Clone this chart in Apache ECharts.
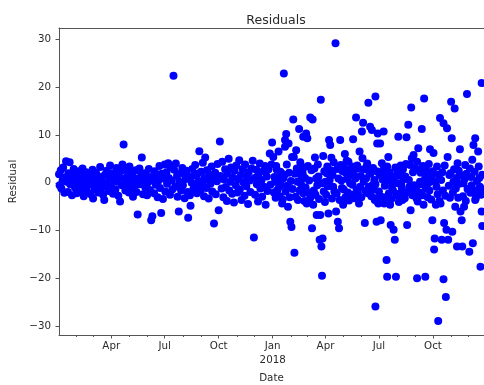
<!DOCTYPE html>
<html><head><meta charset="utf-8">
<script src="https://cdn.jsdelivr.net/npm/echarts@6/dist/echarts.min.js"></script>
<style>html,body{margin:0;padding:0;background:#fff}#c{width:484px;height:385px}</style>
</head><body><div id="c"></div>
<script>
const chartTitle = 'Residuals';
const xName = 'Date';
const yName = 'Residual';
const majorTickDates = ['2017-04-01','2017-07-01','2017-10-01','2018-01-01','2018-04-01','2018-07-01','2018-10-01'];
const majorTickLabels = ['Apr','Jul','Oct','Jan\n2018','Apr','Jul','Oct'];
const minorTickDates = ['2017-02-01','2017-03-01','2017-05-01','2017-06-01','2017-08-01','2017-09-01','2017-11-01','2017-12-01',
  '2018-02-01','2018-03-01','2018-05-01','2018-06-01','2018-08-01','2018-09-01','2018-11-01','2018-12-01'];
const yTicks = [-30,-20,-10,0,10,20,30];

// 2017 residuals (MM-DD, value)
const dates2017 = [
 '01-02','01-03','01-05','01-06','01-08','01-09','01-11','01-12','01-14','01-15','01-17','01-18','01-20','01-21','01-23','01-24','01-26','01-27','01-29','01-30',
 '02-01','02-02','02-04','02-05','02-07','02-08','02-10','02-11','02-13','02-14','02-16','02-17','02-19','02-20','02-22','02-23','02-25','02-26','02-28',
 '03-01','03-03','03-04','03-06','03-07','03-09','03-10','03-12','03-13','03-15','03-16','03-18','03-20','03-21','03-23','03-24','03-26','03-27','03-29','03-30',
 '04-01','04-02','04-04','04-05','04-07','04-08','04-10','04-11','04-13','04-14','04-16','04-17','04-19','04-20','04-22','04-23','04-25','04-26','04-28','04-29',
 '05-01','05-02','05-04','05-05','05-07','05-08','05-10','05-11','05-13','05-14','05-16','05-17','05-19','05-20','05-22','05-23','05-25','05-26','05-28','05-29','05-31',
 '06-01','06-03','06-04','06-06','06-07','06-08','06-10','06-11','06-13','06-14','06-16','06-17','06-19','06-20','06-22','06-23','06-25','06-26','06-28','06-29',
 '07-01','07-02','07-04','07-05','07-07','07-08','07-10','07-11','07-13','07-14','07-16','07-17','07-19','07-20','07-22','07-23','07-25','07-26','07-28','07-29','07-31',
 '08-01','08-03','08-04','08-06','08-07','08-09','08-10','08-12','08-13','08-14','08-16','08-17','08-19','08-20','08-22','08-23','08-25','08-26','08-28','08-29','08-31',
 '09-01','09-03','09-04','09-06','09-07','09-08','09-10','09-11','09-13','09-14','09-16','09-17','09-19','09-20','09-22','09-23','09-25','09-26','09-28','09-29',
 '10-01','10-03','10-04','10-06','10-07','10-09','10-10','10-12','10-13','10-15','10-16','10-18','10-19','10-21','10-22','10-24','10-25','10-27','10-28','10-30','10-31',
 '11-02','11-03','11-05','11-06','11-08','11-09','11-11','11-12','11-14','11-15','11-17','11-18','11-20','11-21','11-23','11-24','11-26','11-28','11-30',
 '12-01','12-02','12-04','12-05','12-07','12-08','12-10','12-11','12-13','12-14','12-16','12-17','12-19','12-20','12-22','12-23','12-25','12-27','12-28','12-30','12-31'
];
const resid2017 = [
 1.8,-0.5,2.6,-1.2,0.4,3.2,-2.1,1.1,4.5,0.2,-1.9,2.0,4.3,-0.3,1.5,-2.6,0.8,2.9,-1.0,0.5,
 -2.2,1.7,-0.6,2.4,0.1,-1.5,1.2,3.0,-2.8,0.6,-0.9,2.2,-1.8,0.3,1.9,-0.4,-2.4,1.0,2.7,
 -3.3,0.7,-1.3,2.1,-0.2,1.4,-2.0,0.9,3.3,-1.1,0.4,-2.5,-3.6,1.6,-0.7,2.5,0.0,-1.7,1.3,3.6,
 -0.9,2.0,-2.3,0.6,1.8,-1.4,3.1,0.2,-2.7,1.1,-3.9,2.4,-0.5,3.8,8.0,0.9,-1.6,2.8,-0.1,1.5,
 -2.0,3.4,0.3,-1.2,2.2,-2.9,1.0,-0.6,2.6,-1.9,-6.6,0.8,3.0,-0.3,1.7,5.3,-2.4,0.5,2.0,-1.0,1.3,
 -2.6,0.1,2.9,-1.5,1.2,-7.8,-7.0,0.7,-2.2,2.4,-0.4,1.6,-3.0,0.4,3.5,-1.1,-6.3,1.9,-3.4,0.9,
 3.8,-1.8,2.2,-0.2,4.1,1.0,-2.5,3.3,0.5,-1.4,22.3,2.7,-0.8,4.0,1.4,-2.9,-6.0,0.2,2.0,-1.6,3.1,
 -0.5,1.8,-3.2,0.8,2.5,-1.9,-7.3,1.2,-2.6,-4.8,0.0,2.9,-1.3,1.5,3.7,-0.6,-2.2,1.9,0.4,6.6,-1.5,
 2.3,-0.4,4.2,-2.8,1.0,5.3,-1.1,2.6,0.6,-3.3,1.7,-0.2,3.4,-1.8,0.9,-8.5,2.1,-2.4,0.3,3.9,
 -5.7,8.6,1.4,-1.2,4.4,-3.0,0.7,2.8,-0.9,-3.8,1.9,5.0,-1.6,0.2,3.2,-2.3,1.1,-4.1,2.5,-0.5,3.6,
 -2.0,0.8,4.7,-1.4,1.6,-3.6,2.9,0.1,-2.7,3.8,-0.7,1.3,-4.4,2.2,0.5,-1.9,3.0,4.6,-11.4,
 1.0,-2.5,2.7,-0.3,-3.9,1.8,4.0,-1.2,0.6,-2.9,2.4,-0.8,3.5,-4.6,1.3,-1.7,2.8,6.1,-0.4,3.8,8.4
];

// 2018 residuals (MM-DD, value)
const dates2018 = [
 '01-20','01-24','01-22','01-11','01-02','01-22','01-28','01-08','01-16','01-05','01-12','01-19','01-17','01-27','01-31',
 '01-03','01-04','01-06','01-07','01-09','01-10','01-13','01-14','01-15','01-18','01-21','01-23','01-25','01-26','01-29','01-30',
 '02-05','02-15','02-27','02-22','02-10','02-06','02-03','02-11','02-23','02-19','02-12','02-20','02-22','02-09','02-28','02-02','02-07',
 '02-01','02-04','02-08','02-13','02-14','02-16','02-17','02-18','02-21','02-24','02-25','02-26',
 '03-24','03-06','03-10','03-01','03-14','03-28','03-20','03-26','03-07','03-11','03-17','03-23','03-09','03-22','03-27','03-25','03-26',
 '03-02','03-03','03-04','03-05','03-08','03-12','03-13','03-15','03-16','03-18','03-19','03-21','03-29','03-30','03-31',
 '04-18','04-07','04-09','04-26','04-11','04-03','04-08','04-14','04-23','04-29','04-20','04-06','04-19','04-22','04-24',
 '04-01','04-02','04-04','04-05','04-10','04-12','04-13','04-15','04-16','04-21','04-25','04-27','04-28','04-30',
 '05-23','05-18','05-04','05-07','05-16','05-29','05-27','05-06','05-13','05-21','05-24','05-30','05-15','05-01','05-28',
 '05-02','05-03','05-05','05-08','05-09','05-10','05-11','05-12','05-14','05-17','05-19','05-20','05-22','05-25','05-26','05-31',
 '06-13','06-25','06-04','06-16','06-19','06-02','06-28','06-03','06-10','06-17','06-05','06-12','06-20','06-26','06-30','06-07','06-27','06-25','06-29','06-28','06-25',
 '06-01','06-06','06-08','06-09','06-11','06-14','06-15','06-18','06-21','06-22','06-23','06-24','06-27',
 '07-09','07-03','07-17','07-06','07-15','07-29','07-23','07-18','07-10','07-20','07-04','07-21','07-26','07-28','07-14','07-15','07-30',
 '07-01','07-02','07-05','07-07','07-08','07-11','07-12','07-13','07-16','07-19','07-22','07-24','07-25','07-27','07-31',
 '08-25','08-20','08-03','08-17','08-29','08-23','08-26','08-02','08-09','08-14','08-06','08-22','08-31','08-24','08-18',
 '08-01','08-04','08-05','08-07','08-08','08-10','08-11','08-12','08-13','08-15','08-16','08-19','08-21','08-27','08-28','08-30',
 '09-16','09-12','09-06','09-26','09-07','09-04','09-21','09-29','09-23','09-09','09-03','09-05','09-15','09-30','09-04','09-18',
 '09-01','09-02','09-08','09-10','09-11','09-13','09-14','09-17','09-19','09-20','09-22','09-24','09-25','09-27','09-28',
 '10-13','10-19','10-25','10-02','10-05','10-26','10-31','10-06','10-14','10-20','10-24','10-04','10-16','10-27','10-03','10-19','10-23','10-10',
 '10-01','10-07','10-08','10-09','10-11','10-12','10-15','10-17','10-18','10-21','10-22','10-28','10-29','10-30',
 '11-28','11-01','11-07','11-02','11-16','11-05','11-12','11-25','11-22','11-08','11-17','11-23','11-19','11-03','11-11','11-20',
 '11-04','11-06','11-09','11-10','11-13','11-14','11-15','11-18','11-21','11-24','11-26','11-27','11-29',
 '12-23','12-12','12-09','12-17','12-03','12-11','12-18','12-01','12-13','12-22','12-12','12-23','12-02','12-08','12-21','12-24',
 '12-04','12-05','12-06','12-07','12-10','12-15','12-16','12-19','12-20','12-24','12-25'
];
const resid2018 = [
 22.8,10.2,8.9,6.5,5.4,7.5,8.2,2.7,2.0,0.2,-0.8,0.9,-4.3,-5.0,-8.1,
 -2.0,1.2,-3.1,3.5,-1.5,0.8,-2.8,2.3,-0.4,-3.5,1.6,-1.8,3.8,-0.6,2.1,-3.0,
 13.2,11.2,10.3,9.6,6.8,5.4,5.4,3.0,3.2,1.3,0.2,-0.8,-2.2,-2.9,-4.3,-9.2,-14.6,
 0.4,-1.3,1.9,-3.6,2.6,-1.6,4.3,-0.2,2.0,-3.8,1.0,-1.0,
 17.3,13.6,13.2,9.3,5.3,5.6,1.3,-0.1,-2.9,-4.6,-6.7,-6.7,-9.5,-11.9,-11.6,-13.3,-19.4,
 3.5,-2.0,0.5,-3.4,2.6,-1.6,3.0,-2.5,0.9,-0.5,3.8,-3.4,-1.8,2.4,-4.0,
 29.1,8.9,7.9,8.9,5.2,2.0,0.6,-0.8,0.9,-1.1,-2.2,-6.4,-6.0,-8.1,-9.5,
 0.2,-2.5,3.4,-0.7,2.6,-3.3,1.6,4.3,-1.8,2.9,-3.6,3.7,0.5,2.4,
 13.6,9.1,6.0,4.6,3.4,6.5,3.0,2.0,-0.1,1.3,-1.5,-0.8,-2.5,-4.6,-4.3,
 -1.4,3.1,-3.0,0.8,-2.0,4.4,-3.7,1.5,2.6,-0.4,2.4,-3.2,0.9,3.6,-2.0,1.4,
 16.7,18.0,12.5,11.7,11.0,10.7,8.2,5.1,3.4,2.0,0.2,-2.2,-0.5,-3.2,-4.3,-8.4,-8.1,-25.8,10.3,-3.9,-0.3,
 -3.0,2.8,-1.6,0.9,4.0,-0.8,1.9,-2.8,3.1,-1.4,0.6,-3.6,2.4,
 10.7,8.2,5.4,4.1,3.4,3.2,-0.8,-2.2,-4.3,-4.6,-7.8,-8.8,-9.8,-11.9,-16.1,-19.6,-19.6,
 -1.8,1.6,-2.9,0.7,2.6,-0.6,1.8,-3.0,0.5,2.2,-3.4,1.2,-1.6,0.4,-2.7,
 15.7,12.1,9.6,9.5,5.8,3.7,5.1,-0.1,-1.1,-3.2,-2.2,-0.8,-1.5,-5.7,-8.8,
 2.0,-4.0,1.5,3.6,-0.4,-3.6,2.8,0.7,-2.3,1.3,3.9,-1.9,0.6,-2.6,2.2,-0.5,
 17.6,11.2,7.2,7.0,2.7,4.4,1.3,1.3,-0.1,0.2,-3.2,-3.9,-4.6,-7.8,-19.9,-19.6,
 3.0,-1.3,-2.0,2.1,-0.3,-2.6,3.5,0.7,-1.2,2.5,-3.0,3.9,-1.6,0.3,-3.5,
 13.5,12.4,11.4,6.2,0.2,5.4,2.0,-4.6,-4.3,-8.4,-9.8,-11.6,-11.9,-11.9,-13.9,-20.1,-23.8,-28.8,
 2.4,-0.8,3.4,-2.4,1.7,-3.8,0.6,2.2,-1.6,3.6,-2.7,-0.6,1.6,-3.1,
 18.5,16.9,15.5,9.3,7.0,0.2,4.1,3.7,-0.1,-5.0,-6.0,-5.0,-7.8,-10.2,-13.3,-13.3,
 -2.0,2.8,-1.2,1.0,-3.1,2.5,-0.2,1.5,-2.8,0.8,-3.8,1.9,-1.3,
 20.8,9.3,7.9,6.5,3.0,2.3,3.4,-1.5,-3.2,-2.5,-3.6,-6.0,-14.4,-12.6,-17.5,-9.0,
 -2.1,1.2,-0.5,4.8,-1.6,0.4,-2.2,1.0,-0.8,1.7,-1.4
];

function ts(y, md) {
  const p = md.split('-').map(Number);
  return new Date(y, p[0] - 1, p[1]).getTime();
}
function tsFull(s) {
  const p = s.split('-').map(Number);
  return new Date(p[0], p[1] - 1, p[2]).getTime();
}
const points = [];
dates2017.forEach((d, i) => points.push([ts(2017, d), resid2017[i]]));
dates2018.forEach((d, i) => points.push([ts(2018, d), resid2018[i]]));

const majorTs = majorTickDates.map(tsFull);
const minorTs = minorTickDates.map(tsFull);
const labelMap = {};
majorTs.forEach((t, i) => { labelMap[t] = majorTickLabels[i]; });

const xMin = new Date(2017, 0, 1, 22, 30).getTime();
const xMax = new Date(2018, 11, 27, 0, 0).getTime();
const FONT = 'DejaVu Sans';
const TXT = '#2b2b2b';
const SPINE = '#555';

const chart = echarts.init(document.getElementById('c'), null, {renderer: 'canvas'});
chart.setOption({
  animation: false,
  backgroundColor: '#fff',
  title: {
    text: chartTitle, left: 271, top: 9, textAlign: 'center',
    textStyle: {fontFamily: FONT, fontSize: 12.5, fontWeight: 'normal', color: TXT}
  },
  grid: {left: 59, right: 0, top: 28, bottom: 50, outerBoundsMode: 'none', containLabel: false},
  xAxis: [
    {
      type: 'value', min: xMin, max: xMax, position: 'bottom', scale: true,
      name: xName, nameLocation: 'middle', nameGap: 35,
      nameTextStyle: {fontFamily: FONT, fontSize: 10.3, color: TXT},
      axisLine: {show: true, onZero: false, lineStyle: {color: SPINE, width: 1}},
      axisTick: {show: true, length: 3.5, customValues: majorTs, lineStyle: {color: SPINE}},
      axisLabel: {
        show: true, customValues: majorTs, margin: 4, hideOverlap: false,
        fontFamily: FONT, fontSize: 10.3, color: TXT, lineHeight: 14.5,
        formatter: v => labelMap[v] || ''
      },
      splitLine: {show: false}
    },
    {
      type: 'value', min: xMin, max: xMax, position: 'bottom', scale: true,
      axisLine: {show: false, onZero: false},
      axisTick: {show: true, length: 2, customValues: minorTs, lineStyle: {color: SPINE}},
      axisLabel: {show: false},
      splitLine: {show: false}
    },
    {
      type: 'value', min: xMin, max: xMax, position: 'top', scale: true,
      axisLine: {show: true, onZero: false, lineStyle: {color: SPINE, width: 1}},
      axisTick: {show: false}, axisLabel: {show: false}, splitLine: {show: false}
    }
  ],
  yAxis: {
    type: 'value', min: -31.74, max: 32.28,
    name: yName, nameLocation: 'middle', nameGap: 35,
    nameTextStyle: {fontFamily: FONT, fontSize: 10.3, color: TXT},
    axisLine: {show: true, onZero: false, lineStyle: {color: SPINE, width: 1}},
    axisTick: {show: true, length: 3.5, customValues: yTicks, lineStyle: {color: SPINE}},
    axisLabel: {
      customValues: yTicks, margin: 8, fontFamily: FONT, fontSize: 10.3, color: TXT,
      formatter: v => (v < 0 ? '\u2212' + (-v) : String(v))
    },
    splitLine: {show: false}
  },
  series: [{
    type: 'scatter', xAxisIndex: 0, yAxisIndex: 0,
    symbol: 'circle', symbolSize: 8,
    itemStyle: {color: '#0000ff', opacity: 1},
    data: points
  }]
});
</script>
</body></html>
